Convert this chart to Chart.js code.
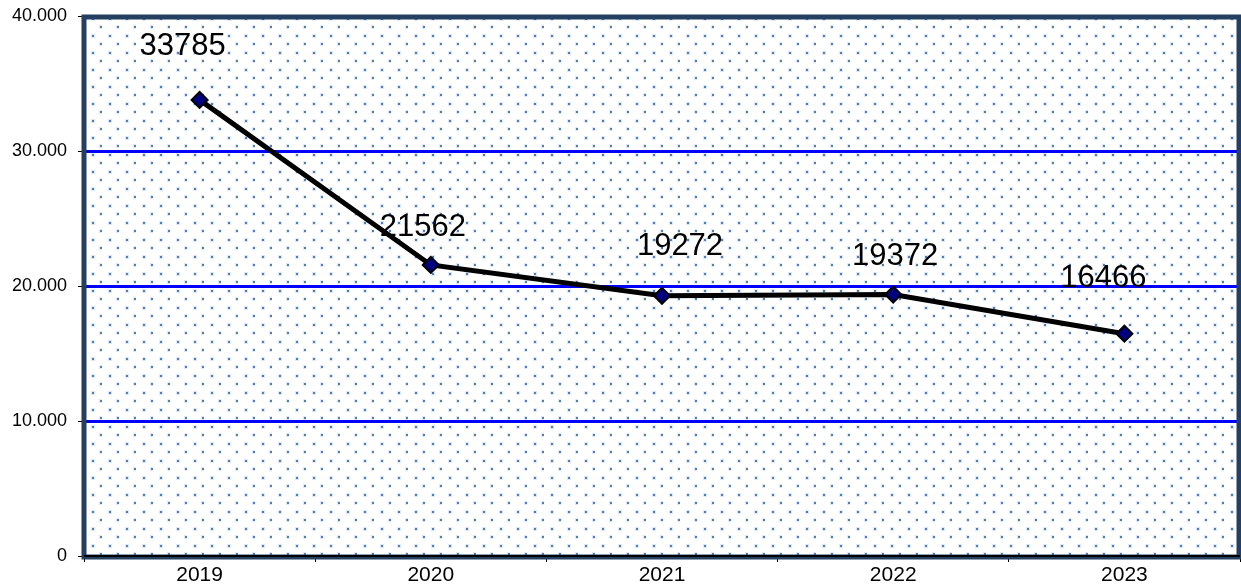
<!DOCTYPE html>
<html>
<head>
<meta charset="utf-8">
<script src="https://cdn.jsdelivr.net/npm/chart.js@4"></script>
<style>
  html, body { margin: 0; background: #fff; overflow: hidden; }
  canvas { display: block; }
</style>
</head>
<body>
<canvas id="chart" width="1241" height="585"></canvas>
<script>
// chart data
let years = ["2019", "2020", "2021", "2022", "2023"];
let values = [33785, 21562, 19272, 19372, 16466];
let yTicks = [0, 10000, 20000, 30000, 40000];

// where each value label sits relative to its point (px)
let labelOffsets = [[-17, -53], [-8, -37], [18, -49], [2, -38], [-21, -55]];

function formatThousands(v) {
    return String(v).replace(/\B(?=(\d{3})+(?!\d))/g, ".");
}

// dotted background tile
function makeDotPattern(ctx) {
    let tile = document.createElement("canvas");
    tile.width = 17;
    tile.height = 17;
    let t = tile.getContext("2d");
    t.fillStyle = "rgba(79,129,189,0.18)";
    t.fillRect(14, 8, 4, 4);
    t.fillRect(6, 0, 4, 4);
    t.fillStyle = "#4a7ec2";
    t.fillRect(15, 9, 2, 2);
    t.fillRect(7, 1, 2, 2);
    return ctx.createPattern(tile, "repeat");
}

const backgroundPlugin = {
    id: "plotBackground",
    beforeDraw(chart) {
        let ctx = chart.ctx;
        let a = chart.chartArea;
        ctx.save();
        ctx.fillStyle = makeDotPattern(ctx);
        ctx.fillRect(a.left, a.top, a.right - a.left, a.bottom - a.top);
        ctx.restore();
    },
    beforeDatasetsDraw(chart) {
        let ctx = chart.ctx;
        let a = chart.chartArea;
        ctx.save();
        ctx.strokeStyle = "#243f60";
        ctx.lineWidth = 5;
        ctx.strokeRect(a.left, a.top + 1, a.right - a.left - 1, a.bottom - a.top);
        ctx.strokeStyle = "#000";
        ctx.lineWidth = 2;
        ctx.beginPath();
        ctx.moveTo(a.left, a.bottom);
        ctx.lineTo(a.right, a.bottom);
        ctx.stroke();
        ctx.restore();
    }
};

const valueLabelPlugin = {
    id: "valueLabels",
    afterDatasetsDraw(chart) {
        let ctx = chart.ctx;
        let meta = chart.getDatasetMeta(0);
        ctx.save();
        ctx.font = "31px 'Liberation Sans', Arial, sans-serif";
        ctx.fillStyle = "#000";
        ctx.textAlign = "center";
        ctx.textBaseline = "middle";
        meta.data.forEach((pt, i) => {
            let off = labelOffsets[i];
            ctx.fillText(String(values[i]), pt.x + off[0], pt.y + off[1]);
        });
        ctx.restore();
    }
};

let ctx = document.getElementById("chart").getContext("2d");

new Chart(ctx, {
    type: "line",
    data: {
        labels: years,
        datasets: [{
            data: values,
            borderColor: "#000",
            borderWidth: 5,
            tension: 0,
            pointStyle: "rectRot",
            pointRadius: 8,
            pointBackgroundColor: "#000080",
            pointBorderColor: "#000",
            pointBorderWidth: 2
        }]
    },
    options: {
        responsive: false,
        animation: false,
        layout: { autoPadding: false, padding: { top: 16, right: 1, left: 0, bottom: 0 } },
        plugins: {
            legend: { display: false },
            tooltip: { enabled: false }
        },
        scales: {
            x: {
                offset: true,
                afterFit: scale => {
                    scale.height = 29;
                    scale.paddingLeft = 0;
                    scale.paddingRight = 0;
                },
                grid: {
                    offset: true,
                    color: "transparent",
                    drawTicks: true,
                    tickLength: 6,
                    tickColor: "#000",
                    tickWidth: 1
                },
                border: { display: false },
                ticks: {
                    color: "#000",
                    padding: 1,
                    font: { family: "'Liberation Sans', Arial, sans-serif", size: 21 }
                }
            },
            y: {
                min: yTicks[0],
                max: yTicks[yTicks.length - 1],
                afterFit: scale => {
                    scale.width = 84;
                    scale.paddingTop = 0;
                    scale.paddingBottom = 0;
                },
                afterBuildTicks: scale => { scale.ticks = yTicks.map(v => ({ value: v })); },
                grid: {
                    color: c => (c.tick && (c.tick.value === 0 || c.tick.value === 40000)) ? "transparent" : "#0000ff",
                    lineWidth: 3,
                    drawTicks: true,
                    tickLength: 6,
                    tickColor: "#000",
                    tickWidth: 1
                },
                border: { display: false },
                ticks: {
                    color: "#000",
                    padding: 11,
                    font: { family: "'Liberation Sans', Arial, sans-serif", size: 18 },
                    callback: v => formatThousands(v)
                }
            }
        }
    },
    plugins: [backgroundPlugin, valueLabelPlugin]
});
</script>
</body>
</html>
